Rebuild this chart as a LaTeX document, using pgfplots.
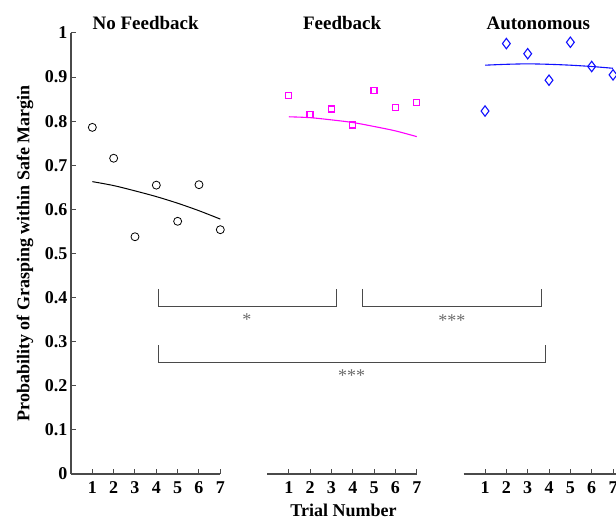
\documentclass[border=0pt]{standalone}
\usepackage{fontspec}
\setmainfont{Liberation Serif}
\usepackage{pgfplots}
\pgfplotsset{compat=1.18}

\definecolor{axisgray}{HTML}{4A4A4A}
\definecolor{stargray}{HTML}{6A6A6A}
\definecolor{fbmagenta}{HTML}{FF00FF}
\definecolor{autoblue}{HTML}{1010FF}

\begin{document}
\begin{tikzpicture}
\begin{axis}[
  at={(0,0)}, anchor=south west,
  scale only axis,
  width=545pt, height=441pt,
  xmin=0, xmax=25.55,
  ymin=0, ymax=1,
  clip=false,
  axis x line*=bottom,
  axis y line*=left,
  x axis line style={draw=none},
  y axis line style={axisgray, line width=1.1pt},
  tick style={axisgray, line width=1pt},
  major tick length=5pt,
  tick align=inside,
  ytick={0,0.1,...,1},
  yticklabels={0,0.1,0.2,0.3,0.4,0.5,0.6,0.7,0.8,0.9,1},
  xtick={1,2,3,4,5,6,7,10.21,11.21,12.21,13.21,14.21,15.21,16.21,19.41,20.41,21.41,22.41,23.41,24.41,25.41},
  xticklabels={1,2,3,4,5,6,7,1,2,3,4,5,6,7,1,2,3,4,5,6,7},
  /pgf/number format/assume math mode=true,
  ticklabel style={font=\fontsize{18}{20}\selectfont\bfseries},
  xticklabel style={yshift=-4pt},
  xlabel={Trial Number},
  ylabel={Probability of Grasping within Safe Margin},
  every axis x label/.style={at={(axis description cs:0.5,0)}, anchor=center, yshift=-36pt,
    font=\fontsize{18}{20}\selectfont\bfseries},
  every axis y label/.style={at={(axis description cs:0,0.5)}, xshift=-46pt, anchor=center, rotate=90,
    font=\fontsize{18}{20}\selectfont\bfseries},
]

% broken x axis: one segment per condition
\addplot[axisgray, line width=1.1pt] coordinates {(0,0) (7,0)};
\addplot[axisgray, line width=1.1pt] coordinates {(9.21,0) (16.21,0)};
\addplot[axisgray, line width=1.1pt] coordinates {(18.41,0) (25.55,0)};

% No Feedback
\addplot[only marks, mark=o, mark size=4pt, black, line width=0.8pt] coordinates {
  (1,0.786) (2,0.716) (3,0.538) (4,0.655) (5,0.573) (6,0.656) (7,0.554)};
\addplot[black, line width=1pt, smooth] coordinates {
  (1,0.663) (2,0.654) (3,0.642) (4,0.629) (5,0.614) (6,0.597) (7,0.578)};

% Feedback
\addplot[only marks, mark=square, mark size=3pt, draw=fbmagenta,
  mark options={draw=fbmagenta, fill=none, line width=1.4pt}] coordinates {
  (10.21,0.858) (11.21,0.815) (12.21,0.828) (13.21,0.791) (14.21,0.869) (15.21,0.831) (16.21,0.843)};
\addplot[fbmagenta, line width=1.1pt, smooth] coordinates {
  (10.21,0.810) (11.21,0.808) (12.21,0.803) (13.21,0.797) (14.21,0.788) (15.21,0.778) (16.21,0.765)};

% Autonomous
\addplot[only marks, mark=diamond, mark size=5.2pt, autoblue, line width=1.1pt] coordinates {
  (19.41,0.823) (20.41,0.976) (21.41,0.953) (22.41,0.893) (23.41,0.979) (24.41,0.924) (25.41,0.905)};
\addplot[autoblue, line width=1.1pt, smooth] coordinates {
  (19.41,0.927) (20.41,0.929) (21.41,0.930) (22.41,0.929) (23.41,0.927) (24.41,0.924) (25.41,0.920)};

% significance brackets
\addplot[axisgray, line width=1pt] coordinates {(4.08,0.420) (4.08,0.380) (12.46,0.380) (12.46,0.420)};
\addplot[axisgray, line width=1pt] coordinates {(13.68,0.420) (13.68,0.380) (22.05,0.380) (22.05,0.420)};
\addplot[axisgray, line width=1pt] coordinates {(4.08,0.2925) (4.08,0.2524) (22.26,0.2524) (22.26,0.2925)};

\node[anchor=base, text=stargray, font=\fontsize{18}{20}\selectfont] at (axis cs:8.25,0.337) {*};
\node[anchor=base, text=stargray, font=\fontsize{18}{20}\selectfont] at (axis cs:17.85,0.334) {***};
\node[anchor=base, text=stargray, font=\fontsize{18}{20}\selectfont] at (axis cs:13.16,0.209) {***};

% condition titles
\node[anchor=base, font=\fontsize{19}{21}\selectfont\bfseries] at (axis cs:3.5,1.0084) {No Feedback};
\node[anchor=base, font=\fontsize{19}{21}\selectfont\bfseries] at (axis cs:12.71,1.0084) {Feedback};
\node[anchor=base, font=\fontsize{19}{21}\selectfont\bfseries] at (axis cs:21.91,1.0084) {Autonomous};

\end{axis}
\pgfresetboundingbox
\path[use as bounding box] (-71pt,-45pt) rectangle (545pt,474pt);
\end{tikzpicture}
\end{document}
